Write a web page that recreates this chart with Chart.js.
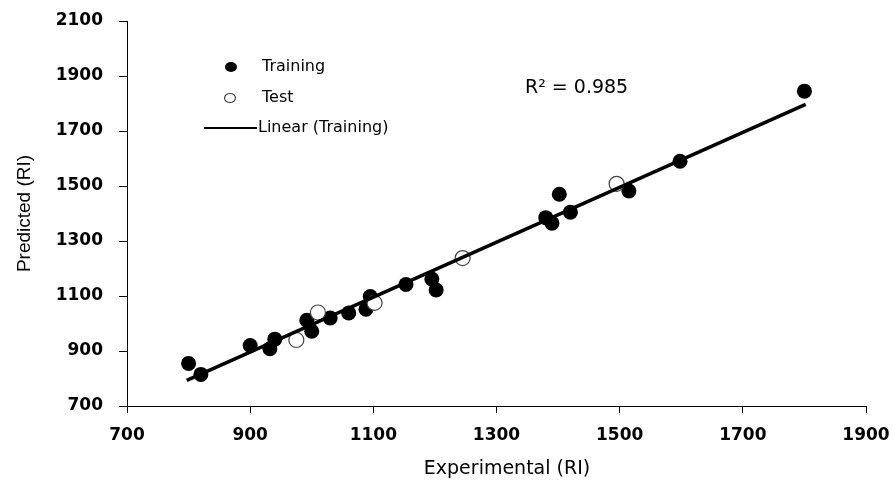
<!DOCTYPE html>
<html>
<head>
<meta charset="utf-8">
<script src="https://cdn.jsdelivr.net/npm/chart.js@4.4.1/dist/chart.umd.min.js"></script>
<style>
    html, body { margin: 0; padding: 0; background: #fff; }
    #wrap { width: 893px; height: 481px; position: relative; }
</style>
</head>
<body>
<div id="wrap"><canvas id="riChart"></canvas></div>
<script>
// Values
const trainX = [800, 820, 900, 932, 940, 992, 1000, 1030, 1060, 1088, 1095, 1153, 1195, 1202, 1380, 1390, 1402, 1420, 1515, 1598, 1800];
const trainY = [855, 815, 920, 908, 943, 1012, 972, 1020, 1038, 1052, 1098, 1142, 1162, 1122, 1385, 1365, 1470, 1405, 1482, 1590, 1845];
const testX = [975, 1010, 1102, 1245, 1495];
const testY = [940, 1040, 1075, 1238, 1508];
// Ends of the "Linear (Training)" trend line
const trendX = [797, 1802];
const trendY = [793, 1797];
const xTicks = [700, 900, 1100, 1300, 1500, 1700, 1900];
const yTicks = [700, 900, 1100, 1300, 1500, 1700, 1900, 2100];
const xTitle = 'Experimental (RI)';
const r2Label = 'R² = 0.985';

const toPoints = (xs, ys) => xs.map((x, i) => ({ x: x, y: ys[i] }));

const tickFont = { family: 'DejaVu Sans', size: 17, weight: 'bold' };

/**
 * Legend, R² note and x title drawn by hand, like the original
 */
const insideLegend = {
    id: 'insideLegend',
    afterDraw(chart) {
        const ctx = chart.ctx;
        ctx.save();
        ctx.font = '16px "DejaVu Sans"';
        ctx.fillStyle = '#000';
        ctx.textBaseline = 'middle';

        // Training marker
        ctx.beginPath();
        ctx.ellipse(231, 67, 6, 5, 0, 0, Math.PI * 2);
        ctx.fill();
        ctx.fillText('Training', 262, 67);

        // Test marker
        ctx.beginPath();
        ctx.ellipse(230, 98, 5.5, 4.5, 0, 0, Math.PI * 2);
        ctx.strokeStyle = '#444';
        ctx.lineWidth = 1.2;
        ctx.stroke();
        ctx.fillText('Test', 262, 98);

        // Trend line sample
        ctx.beginPath();
        ctx.moveTo(204, 128);
        ctx.lineTo(257, 128);
        ctx.strokeStyle = '#000';
        ctx.lineWidth = 2;
        ctx.stroke();
        ctx.fillText('Linear (Training)', 258, 128);

        ctx.font = '19px "DejaVu Sans"';
        ctx.fillText(r2Label, 525, 88);

        // x axis title, sits a little right of centre in the original
        ctx.textAlign = 'center';
        ctx.fillText(xTitle, 507, 469);
        ctx.restore();
    }
};

const ctx = document.getElementById('riChart');

new Chart(ctx, {
    type: 'scatter',
    data: {
        datasets: [
            {
                label: 'Linear (Training)',
                type: 'line',
                data: toPoints(trendX, trendY),
                borderColor: '#000',
                borderWidth: 3.5,
                pointRadius: 0,
                fill: false,
                order: 0
            },
            {
                label: 'Test',
                data: toPoints(testX, testY),
                backgroundColor: '#fff',
                borderColor: '#444',
                borderWidth: 1.2,
                pointRadius: 7.5,
                order: 1
            },
            {
                label: 'Training',
                data: toPoints(trainX, trainY),
                backgroundColor: '#000',
                borderColor: '#000',
                borderWidth: 0,
                pointRadius: 7.5,
                order: 2
            }
        ]
    },
    options: {
        responsive: true,
        maintainAspectRatio: false,
        animation: false,
        layout: {
            padding: { top: 21, right: 27, left: 0, bottom: 0 }
        },
        plugins: {
            legend: { display: false },
            tooltip: { enabled: false }
        },
        scales: {
            x: {
                type: 'linear',
                min: 700,
                max: 1900,
                afterBuildTicks: (scale) => {
                    scale.ticks = xTicks.map(v => ({ value: v }));
                },
                afterFit: (scale) => {
                    scale.height = 75;
                    scale.paddingLeft = 0;
                    scale.paddingRight = 0;
                },
                grid: {
                    drawOnChartArea: false,
                    drawTicks: true,
                    tickLength: 7,
                    color: '#000'
                },
                border: { display: true, color: '#000', width: 1 },
                ticks: {
                    color: '#000',
                    font: tickFont,
                    padding: 12,
                    maxRotation: 0,
                    callback: (v) => String(v)
                },
                title: { display: false }
            },
            y: {
                type: 'linear',
                min: 700,
                max: 2100,
                afterBuildTicks: (scale) => {
                    scale.ticks = yTicks.map(v => ({ value: v }));
                },
                afterFit: (scale) => {
                    scale.width = 127;
                    scale.paddingTop = 0;
                    scale.paddingBottom = 0;
                },
                grid: {
                    drawOnChartArea: false,
                    drawTicks: true,
                    tickLength: 8,
                    color: '#000'
                },
                border: { display: true, color: '#000', width: 1 },
                ticks: {
                    color: '#000',
                    font: tickFont,
                    padding: 16,
                    callback: (v) => String(v)
                },
                title: {
                    display: true,
                    text: 'Predicted (RI)',
                    color: '#000',
                    font: { family: 'Liberation Sans', size: 19 },
                    padding: { top: 13, bottom: 0 }
                }
            }
        }
    },
    plugins: [insideLegend]
});
</script>
</body>
</html>
